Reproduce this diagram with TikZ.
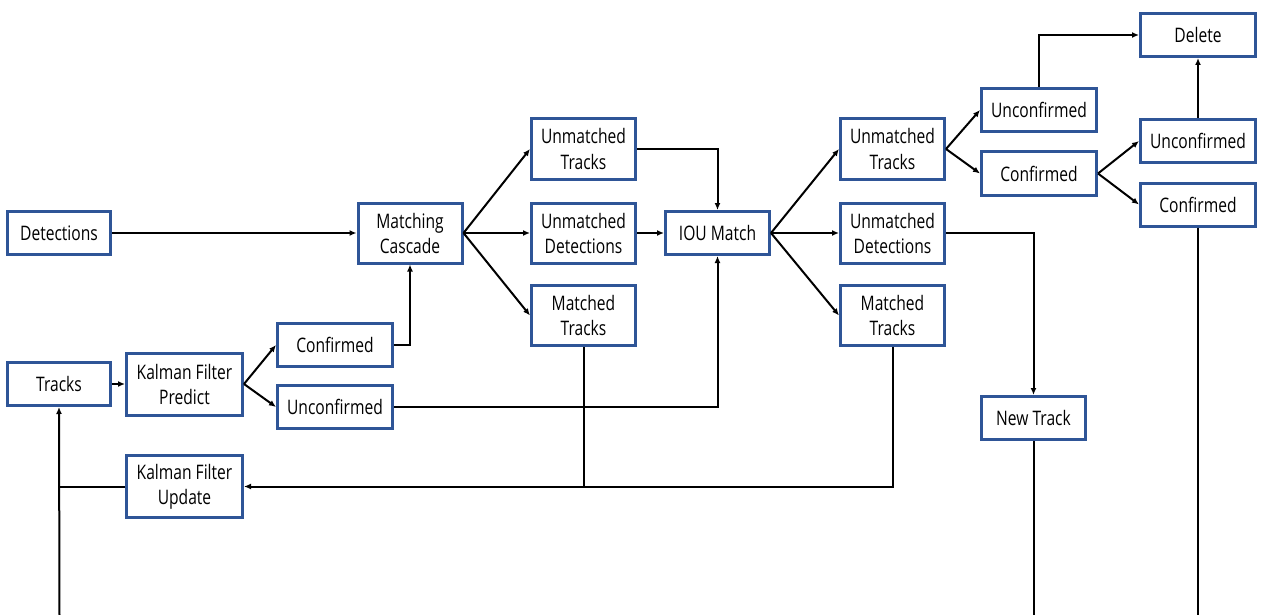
\documentclass[tikz,border=0pt]{standalone}
\usepackage{fontspec}
\setmainfont[FakeStretch=0.78]{Open Sans}
\usetikzlibrary{arrows.meta}
\definecolor{boxblue}{RGB}{47,85,151}
\begin{document}
\begin{tikzpicture}[x=1pt,y=-1pt,
  box/.style={draw=boxblue,line width=3pt,fill=white,inner sep=0pt,align=center,
    font=\fontsize{20}{25}\selectfont},
  wa/.style={box,minimum width=103pt,minimum height=43pt},
  wb/.style={box,minimum width=115pt,minimum height=43pt},
  wc/.style={box,minimum width=104pt,minimum height=60pt},
  wd/.style={box,minimum width=116pt,minimum height=62pt},
  link/.style={line width=2pt,-{Latex[length=7pt,width=6pt]}},
  wire/.style={line width=2pt}]
\useasboundingbox (0,0) rectangle (1261,615);

% input column
\node[wa] (det) at (59,233) {Detections};
\node[wa] (trk) at (59,384) {Tracks};
\node[wd] (kfp) at (184.5,384) {Kalman Filter\\Predict};
\node[wd] (kfu) at (184.5,486.5) {Kalman Filter\\Update};
\node[wb] (cf1) at (335,345) {Confirmed};
\node[wb] (uc1) at (335,407) {Unconfirmed};

% matching cascade stage
\node[wc] (mc) at (410,233) {Matching\\Cascade};
\node[wc] (ut1) at (583.5,149) {Unmatched\\Tracks};
\node[wc] (ud1) at (583.5,233) {Unmatched\\Detections};
\node[wc] (mt1) at (583.5,315.5) {Matched\\Tracks};

% IOU stage
\node[wa,minimum width=104pt] (iou) at (717.5,233) {IOU Match};
\node[wc] (ut2) at (892.5,149) {Unmatched\\Tracks};
\node[wc] (ud2) at (892.5,233) {Unmatched\\Detections};
\node[wc] (mt2) at (892.5,315.5) {Matched\\Tracks};

% track management
\node[wb] (uc2) at (1039,110) {Unconfirmed};
\node[wb] (cf2) at (1039,173.5) {Confirmed};
\node[wb] (del) at (1198,35) {Delete};
\node[wb] (uc3) at (1198,141) {Unconfirmed};
\node[wb] (cf3) at (1198,204.5) {Confirmed};
\node[wa,minimum width=104pt] (new) at (1033.5,418) {New Track};

\coordinate (trkin) at (59.5,615);
\coordinate (newout) at (1033.5,615);
\coordinate (cfout) at (1198,615);

% connectors
\draw[link] (det.east) -- (mc.west);
\draw[link] (trk.east) -- (kfp.west);
\draw[link] (kfp.east) -- (cf1.west);
\draw[link] (kfp.east) -- (uc1.west);
\draw[link] (cf1.east) -| (mc.south);
\draw[link] (uc1.east) -| (iou.south);

\draw[link] (mc.east) -- (ut1.west);
\draw[link] (mc.east) -- (ud1.west);
\draw[link] (mc.east) -- (mt1.west);
\draw[link] (ut1.east) -| (iou.north);
\draw[link] (ud1.east) -- (iou.west);

\draw[link] (iou.east) -- (ut2.west);
\draw[link] (iou.east) -- (ud2.west);
\draw[link] (iou.east) -- (mt2.west);

\draw[link] (ut2.east) -- (uc2.west);
\draw[link] (ut2.east) -- (cf2.west);
\draw[link] (uc2.north) |- (del.west);
\draw[link] (cf2.east) -- (uc3.west);
\draw[link] (cf2.east) -- (cf3.west);
\draw[link] (uc3.north) -- (del.south);
\draw[link] (ud2.east) -| (new.north);

\draw[wire] (new.south) -- (newout);
\draw[wire] (cf3.south) -- (cfout);

% update feedback
\draw[link] (mt2.south) |- (kfu.east);
\draw[wire] (mt1.south) -- (mt1.south |- kfu.east);
\draw[wire] (kfu.west) -- (trkin |- kfu.west);
\draw[link] (trkin) -- (trk.south);
\end{tikzpicture}
\end{document}
